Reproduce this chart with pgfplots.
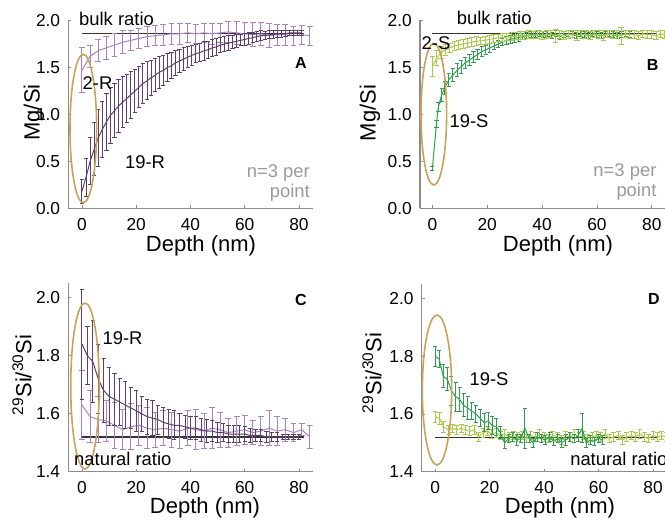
\documentclass[border=0pt]{standalone}
\usepackage{fontspec}
\setmainfont{Liberation Sans}
\usepackage{pgfplots}
\pgfplotsset{compat=1.18}

\definecolor{dkpur}{HTML}{5E3F6E}
\definecolor{ltpur}{HTML}{A882C8}
\definecolor{dkgrn}{HTML}{2E9E50}
\definecolor{ltgrn}{HTML}{A8CA48}
\definecolor{ellc}{HTML}{C9A25A}
\definecolor{axgray}{HTML}{8C8C8C}
\definecolor{txgray}{HTML}{9A9A9A}

\newcommand{\tk}{\fontsize{13}{15}\selectfont}
\newcommand{\an}{\fontsize{13.8}{16}\selectfont}
\newcommand{\lb}{\fontsize{16.5}{20}\selectfont}

\pgfplotsset{
  panel/.style={
    scale only axis, anchor=south west,
    axis x line=bottom, axis y line=left,
    axis line style={-, axgray, line width=0.8pt},
    tick style={axgray, line width=0.6pt},
    tick align=inside, major tick length=2.2pt,
    xtick={0,20,40,60,80}, xticklabels={0,20,40,60,80},
    ticklabel style={font=\tk, inner sep=0pt},
    xticklabel style={anchor=north, yshift=-7.3pt},
    yticklabel style={anchor=east, xshift=-6pt},
  },
  ser/.style={line width=0.75pt, mark=none,
    error bars/y dir=both, error bars/y explicit,
    error bars/error bar style={line width=0.75pt},
    error bars/error mark options={rotate=90, mark size=#1, line width=0.75pt}},
  ref/.style={black!80, line width=1pt, forget plot},
}
\tikzset{txt/.style={inner sep=0pt}}

\begin{document}
\begin{tikzpicture}
\useasboundingbox (0pt,0pt) rectangle (498.75pt,-392.25pt);

% ---------------- A ----------------
\begin{axis}[panel, at={(51.3pt,-156.2pt)}, width=183.1pt, height=141.4pt,
  xmin=-5, xmax=85, ymin=0, ymax=2.01,
  ytick={0,0.5,1,1.5,2}, yticklabels={0.0,0.5,1.0,1.5,2.0}]
\addplot[ref] coordinates {(0,1.86) (82,1.86)};
\addplot[ltpur, ser=2.2pt] table[x=x, y=y, y error=e] {
x y e
0 1.47 0.24
3 1.62 0.12
6 1.68 0.12
9 1.71 0.12
12 1.74 0.12
15 1.77 0.12
18 1.79 0.11
21 1.81 0.11
24 1.83 0.11
27 1.84 0.11
30 1.85 0.11
33 1.86 0.11
36 1.86 0.11
39 1.87 0.10
42 1.86 0.10
45 1.87 0.10
48 1.86 0.11
51 1.87 0.10
54 1.88 0.11
57 1.87 0.12
60 1.86 0.12
63 1.85 0.13
66 1.86 0.12
69 1.84 0.13
72 1.85 0.11
75 1.85 0.11
78 1.84 0.10
81 1.85 0.10
84 1.84 0.10
};
\addplot[dkpur, ser=1.6pt] table[x=x, y=y, y error=e] {
x y e
0 0.18 0.13
1.5 0.33 0.20
3 0.50 0.25
4.5 0.63 0.28
6 0.75 0.30
7.5 0.84 0.30
9 0.92 0.30
10.5 0.99 0.30
12 1.04 0.29
13.5 1.09 0.28
15 1.13 0.27
16.5 1.17 0.26
18 1.21 0.25
19.5 1.25 0.23
21 1.29 0.22
22.5 1.33 0.21
24 1.36 0.20
25.5 1.39 0.19
27 1.42 0.18
28.5 1.45 0.17
30 1.47 0.16
31.5 1.50 0.15
33 1.52 0.14
34.5 1.55 0.13
36 1.57 0.12
37.5 1.59 0.12
39 1.61 0.11
40.5 1.63 0.11
42 1.65 0.10
43.5 1.66 0.10
45 1.68 0.10
46.5 1.69 0.09
48 1.71 0.09
49.5 1.72 0.09
51 1.74 0.08
52.5 1.75 0.08
54 1.76 0.08
55.5 1.77 0.07
57 1.78 0.07
58.5 1.79 0.06
60 1.80 0.06
61.5 1.81 0.06
63 1.82 0.05
64.5 1.83 0.05
66 1.84 0.05
67.5 1.84 0.04
69 1.85 0.04
70.5 1.85 0.04
72 1.86 0.04
73.5 1.86 0.04
75 1.86 0.03
76.5 1.87 0.03
78 1.87 0.03
79.5 1.87 0.03
81 1.87 0.03
};
\end{axis}

% ---------------- B ----------------
\begin{axis}[panel, at={(315pt,-156.2pt)}, width=184.1pt, height=141.4pt,
  xmin=-4.5, xmax=85, ymin=0, ymax=2.01,
  ytick={0,0.5,1,1.5,2}, yticklabels={0.0,0.5,1.0,1.5,2.0}]
\addplot[ref] coordinates {(0,1.86) (82,1.86)};
\addplot[dkgrn, ser=1.6pt] table[x=x, y=y, y error=e] {
x y e
0 0.42 0.02
1.5 0.90 0.04
2.2 1.08 0.05
3.4 1.21 0.07
4.5 1.28 0.07
6 1.37 0.07
7.5 1.42 0.07
9 1.47 0.07
10.5 1.51 0.07
12 1.55 0.06
13.5 1.58 0.06
15 1.61 0.06
16.5 1.64 0.05
18 1.67 0.05
19.5 1.69 0.05
21 1.71 0.05
22.5 1.73 0.04
24 1.75 0.04
25.5 1.77 0.04
27 1.79 0.04
28.5 1.80 0.04
30 1.81 0.04
31.5 1.82 0.04
33 1.83 0.03
34.5 1.84 0.03
36 1.85 0.03
37.5 1.85 0.03
39 1.86 0.03
40.5 1.85 0.03
42 1.86 0.03
43.5 1.84 0.03
45 1.86 0.03
46.5 1.83 0.03
48 1.85 0.03
49.5 1.86 0.03
51 1.85 0.03
52.5 1.84 0.03
54 1.86 0.03
55.5 1.85 0.03
57 1.84 0.03
58.5 1.86 0.03
60 1.85 0.03
61.5 1.84 0.03
63 1.85 0.03
64.5 1.86 0.03
66 1.85 0.03
67.5 1.84 0.03
69 1.85 0.03
70.5 1.86 0.03
72 1.85 0.03
};
\addplot[ltgrn, ser=2pt] table[x=x, y=y, y error=e] {
x y e
0 1.51 0.11
1.6 1.60 0.08
3.2 1.66 0.06
4.8 1.69 0.06
6.4 1.71 0.05
8 1.73 0.05
9.6 1.74 0.05
11.2 1.75 0.05
12.8 1.76 0.05
14.4 1.77 0.05
16 1.78 0.05
17.6 1.785 0.04
19.2 1.79 0.04
20.8 1.80 0.04
22.4 1.81 0.04
24 1.815 0.04
25.6 1.82 0.04
27.2 1.825 0.04
28.8 1.83 0.04
30.4 1.835 0.04
32 1.84 0.04
33.6 1.84 0.04
35.2 1.85 0.04
36.8 1.845 0.04
38.4 1.85 0.04
40 1.84 0.04
41.6 1.85 0.04
43.2 1.86 0.04
44.8 1.84 0.07
46.4 1.85 0.04
48 1.84 0.04
49.6 1.85 0.04
51.2 1.86 0.04
52.8 1.84 0.05
54.4 1.85 0.04
56 1.85 0.04
57.6 1.84 0.04
59.2 1.86 0.04
60.8 1.85 0.04
62.4 1.84 0.05
64 1.86 0.04
65.6 1.85 0.04
67.2 1.85 0.04
68.8 1.84 0.09
70.4 1.86 0.04
72 1.85 0.04
73.6 1.85 0.04
75.2 1.84 0.04
76.8 1.86 0.04
78.4 1.85 0.04
80 1.85 0.04
81.6 1.84 0.04
83.2 1.86 0.04
84.8 1.85 0.04
};
\end{axis}

% ---------------- C ----------------
\begin{axis}[panel, at={(51.3pt,-353.8pt)}, width=183.1pt, height=141.4pt,
  xmin=-5, xmax=85, ymin=1.4, ymax=2.05,
  ytick={1.4,1.6,1.8,2.0}, yticklabels={1.4,1.6,1.8,2.0}]
\addplot[ref] coordinates {(0,1.52) (82,1.52)};
\addplot[ltpur, ser=2.2pt] table[x=x, y=y, y error=e] {
x y e
0 1.63 0.12
3 1.59 0.09
6 1.58 0.08
9 1.575 0.07
12 1.56 0.08
15 1.545 0.07
18 1.555 0.08
21 1.56 0.07
24 1.55 0.07
27 1.545 0.06
30 1.55 0.06
33 1.545 0.06
36 1.54 0.06
39 1.55 0.06
42 1.545 0.07
45 1.54 0.06
48 1.55 0.07
51 1.545 0.06
54 1.535 0.05
57 1.54 0.05
60 1.545 0.05
63 1.535 0.04
66 1.54 0.05
69 1.55 0.06
72 1.54 0.05
75 1.545 0.04
78 1.535 0.03
81 1.545 0.02
84 1.52 0.04
};
\addplot[dkpur, ser=1.6pt] table[x=x, y=y, y error=e] {
x y e
0 1.84 0.19
2 1.80 0.10
4 1.78 0.14
6 1.72 0.12
8 1.68 0.11
10 1.66 0.10
12 1.65 0.09
14 1.64 0.08
16 1.63 0.08
18 1.62 0.07
20 1.61 0.07
22 1.60 0.06
24 1.59 0.06
26 1.585 0.06
28 1.58 0.05
30 1.57 0.05
32 1.565 0.05
34 1.56 0.05
36 1.56 0.04
38 1.555 0.04
40 1.55 0.04
42 1.55 0.04
44 1.545 0.04
46 1.54 0.04
48 1.54 0.035
50 1.535 0.035
52 1.535 0.03
54 1.53 0.03
56 1.53 0.03
58 1.53 0.03
60 1.53 0.025
62 1.525 0.025
64 1.525 0.02
66 1.525 0.02
68 1.52 0.02
70 1.52 0.015
72 1.52 0.015
74 1.52 0.01
76 1.52 0.01
78 1.52 0.01
80 1.52 0.01
};
\end{axis}

% ---------------- D ----------------
\begin{axis}[panel, at={(316.3pt,-353.8pt)}, width=183.7pt, height=140.9pt,
  xmin=-4.9, xmax=85, ymin=1.4, ymax=2.05,
  ytick={1.4,1.6,1.8,2.0}, yticklabels={1.4,1.6,1.8,2.0}]
\addplot[ref] coordinates {(0,1.518) (82,1.518)};
\addplot[ltgrn, ser=1.8pt] table[x=x, y=y, y error=e] {
x y e
0 1.59 0.02
1.6 1.585 0.02
3.2 1.555 0.02
4.8 1.545 0.015
6.4 1.55 0.015
8 1.545 0.015
9.6 1.55 0.015
11.2 1.545 0.015
12.8 1.54 0.015
14.4 1.545 0.015
16 1.52 0.015
17.6 1.535 0.015
19.2 1.54 0.015
20.8 1.53 0.015
22.4 1.535 0.015
24 1.525 0.015
25.6 1.53 0.015
27.2 1.52 0.015
28.8 1.525 0.015
30.4 1.52 0.015
32 1.525 0.015
33.6 1.515 0.015
35.2 1.525 0.015
36.8 1.52 0.015
38.4 1.53 0.015
40 1.52 0.015
41.6 1.515 0.015
43.2 1.525 0.015
44.8 1.52 0.015
46.4 1.51 0.015
48 1.525 0.015
49.6 1.52 0.015
51.2 1.53 0.015
52.8 1.52 0.015
54.4 1.525 0.015
56 1.515 0.015
57.6 1.52 0.015
59.2 1.525 0.015
60.8 1.52 0.015
62.4 1.53 0.015
64 1.515 0.015
65.6 1.52 0.015
67.2 1.525 0.015
68.8 1.51 0.015
70.4 1.52 0.015
72 1.525 0.015
73.6 1.52 0.015
75.2 1.53 0.015
76.8 1.52 0.015
78.4 1.515 0.015
80 1.525 0.015
81.6 1.52 0.015
83.2 1.525 0.015
84.8 1.52 0.015
};
\addplot[dkgrn, ser=1.5pt] table[x=x, y=y, y error=e] {
x y e
0 1.80 0.035
1.5 1.79 0.03
3 1.73 0.04
4.5 1.72 0.04
6 1.68 0.05
7.5 1.66 0.05
9 1.65 0.04
10.5 1.63 0.04
12 1.62 0.04
13.5 1.61 0.03
15 1.60 0.03
16.5 1.585 0.03
18 1.57 0.03
19.5 1.575 0.03
21 1.56 0.03
22.5 1.555 0.03
24 1.535 0.02
25.5 1.50 0.02
27 1.515 0.015
28.5 1.52 0.015
30 1.51 0.02
31.5 1.515 0.015
33 1.55 0.07
34.5 1.515 0.015
36 1.50 0.015
37.5 1.52 0.015
39 1.515 0.015
40.5 1.51 0.015
42 1.52 0.015
43.5 1.505 0.015
45 1.515 0.015
46.5 1.50 0.015
48 1.51 0.02
49.5 1.52 0.015
51 1.515 0.015
52.5 1.525 0.02
54 1.55 0.05
55.5 1.50 0.015
57 1.51 0.015
58.5 1.505 0.015
60 1.515 0.015
61.5 1.51 0.015
};
\end{axis}

% ellipses
\draw[ellc, line width=1.2pt] (62.5pt,-96.4pt) ellipse [x radius=10pt, y radius=55.65pt];
\draw[ellc, line width=1.2pt] (325.35pt,-85.65pt) ellipse [x radius=9.6pt, y radius=53.1pt];
\draw[ellc, line width=1.2pt] (63.75pt,-289.5pt) ellipse [x radius=10.7pt, y radius=62.25pt];
\draw[ellc, line width=1.2pt] (327.75pt,-292.5pt) ellipse [x radius=11pt, y radius=56.25pt];

% axis labels
\node[txt, font=\lb] at (150.75pt,-184pt) {Depth (nm)};
\node[txt, font=\lb] at (418.5pt,-184pt) {Depth (nm)};
\node[txt, font=\lb] at (153.75pt,-380.8pt) {Depth (nm)};
\node[txt, font=\lb] at (420pt,-380.8pt) {Depth (nm)};
\node[txt, font=\lb, rotate=90] at (25.5pt,-84.4pt) {Mg/Si};
\node[txt, font=\lb, rotate=90] at (277.5pt,-84.75pt) {Mg/Si};
\node[txt, font=\lb, rotate=90] at (16.5pt,-281.25pt) {\textsuperscript{29}Si/\textsuperscript{30}Si};
\node[txt, font=\lb, rotate=90] at (279pt,-279.75pt) {\textsuperscript{29}Si/\textsuperscript{30}Si};

% annotations
\node[txt, font=\an] at (87.4pt,-13.9pt) {bulk ratio};
\node[txt, font=\an] at (370.65pt,-13.7pt) {bulk ratio};
\node[txt, font=\an] at (73.1pt,-62.5pt) {2-R};
\node[txt, font=\an] at (108.75pt,-121.9pt) {19-R};
\node[txt, font=\an] at (327pt,-32.5pt) {2-S};
\node[txt, font=\an] at (351.75pt,-90.6pt) {19-S};
\node[txt, font=\an] at (91.9pt,-253.7pt) {19-R};
\node[txt, font=\an] at (366.75pt,-284.25pt) {19-S};
\node[txt, font=\an] at (92.1pt,-344.25pt) {natural ratio};
\node[txt, font=\an, anchor=west] at (427.5pt,-344.25pt) {natural ratio};
\node[txt, font=\an, txgray, anchor=east] at (232.5pt,-129.75pt) {n=3 per};
\node[txt, font=\an, txgray, anchor=east] at (232.5pt,-144.75pt) {point};
\node[txt, font=\an, txgray, anchor=east] at (492.5pt,-128.8pt) {n=3 per};
\node[txt, font=\an, txgray, anchor=east] at (492.5pt,-143.8pt) {point};
\node[txt, font=\fontsize{12}{14}\selectfont\bfseries] at (225.6pt,-47.5pt) {A};
\node[txt, font=\fontsize{12}{14}\selectfont\bfseries] at (489.4pt,-48.75pt) {B};
\node[txt, font=\fontsize{12}{14}\selectfont\bfseries] at (225.6pt,-225pt) {C};
\node[txt, font=\fontsize{12}{14}\selectfont\bfseries] at (490.5pt,-224.25pt) {D};
\end{tikzpicture}
\end{document}
